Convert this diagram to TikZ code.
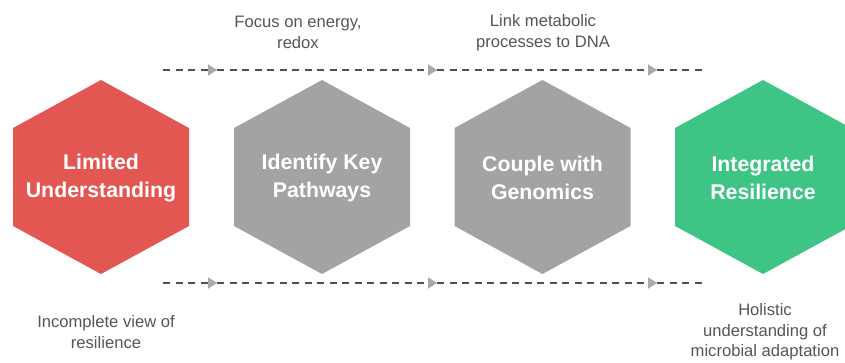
\documentclass[tikz,border=0pt]{standalone}
\usepackage{fontspec}
\setmainfont{Liberation Sans}
\usetikzlibrary{arrows.meta}

\definecolor{hexred}{HTML}{E35753}
\definecolor{hexgray}{HTML}{A3A3A3}
\definecolor{hexgreen}{HTML}{3EC484}
\definecolor{labelgray}{HTML}{555555}
\definecolor{linegray}{HTML}{505050}
\definecolor{tipgray}{HTML}{A8A8A8}

\tikzset{
  hexlabel/.style={text=white, font=\bfseries\fontsize{21.3}{27.5}\selectfont, align=center, inner sep=0pt},
  note/.style={text=labelgray, font=\fontsize{16.6}{20.5}\selectfont, align=center, inner sep=0pt},
  flow/.style={draw=linegray, line width=1.8pt, dash pattern=on 7pt off 5.5pt},
  flowarrow/.style={flow, -{Triangle[length=9pt,width=11pt,color=tipgray]}},
}

% filled hexagon with a pointy top around a centre point
\newcommand{\hexagonfill}[3]{%
  \fill[#3] (#1,#2) ++(0,-97) -- ++(88,48) -- ++(0,98) -- ++(-88,48)
    -- ++(-88,-48) -- ++(0,-98) -- cycle;}

\begin{document}
\begin{tikzpicture}[x=1pt,y=-1pt]
  \useasboundingbox (0,0) rectangle (845,362);

  % hexagons
  \hexagonfill{101}{177}{hexred}
  \hexagonfill{322}{177}{hexgray}
  \hexagonfill{542.5}{177}{hexgray}
  \hexagonfill{763}{177}{hexgreen}

  \node[hexlabel] (lim) at (101,178) {Limited\\Understanding};
  \node[hexlabel] (key) at (322,178) {Identify Key\\Pathways};
  \node[hexlabel] (gen) at (542.5,178) {Couple with\\Genomics};
  \node[hexlabel] (res) at (763,178) {Integrated\\Resilience};

  % dashed flow lines above and below the hexagons
  \foreach \row/\yy in {top/70, bot/283} {
    \coordinate (\row s) at (163,\yy);
    \coordinate (\row a) at (217,\yy);
    \coordinate (\row b) at (437,\yy);
    \coordinate (\row c) at (657,\yy);
    \coordinate (\row e) at (703,\yy);
    \draw[flowarrow] (\row s) -- (\row a);
    \draw[flowarrow] (\row a) -- (\row b);
    \draw[flowarrow] (\row b) -- (\row c);
    \draw[flow] (\row c) -- (\row e);
  }

  % annotations
  \node[note] (energy) at (298,32.5) {Focus on energy,\\redox};
  \node[note] (dna) at (543,32.5) {Link metabolic\\processes to DNA};
  \node[note] (incomplete) at (106,332) {Incomplete view of\\resilience};
  \node[note] (holistic) at (765,332) {Holistic\\understanding of\\microbial adaptation};
\end{tikzpicture}
\end{document}
